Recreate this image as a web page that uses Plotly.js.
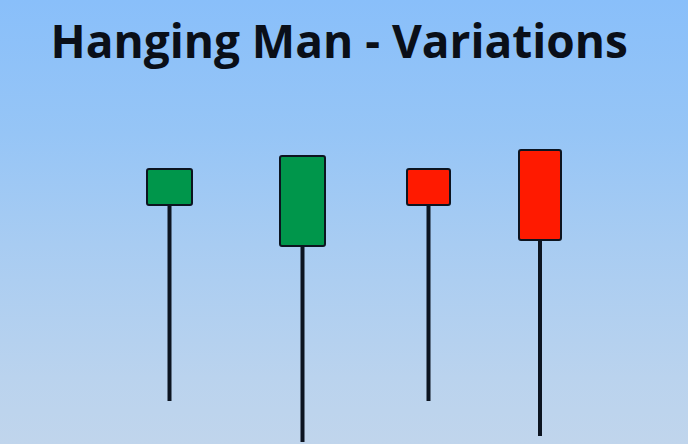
<!DOCTYPE html>
<html>
<head>
<meta charset="utf-8">
<script src="https://cdn.plot.ly/plotly-3.0.1.min.js"></script>
<style>
  html, body { margin: 0; padding: 0; }
  body {
    width: 688px; height: 444px; overflow: hidden;
    background: linear-gradient(to bottom, #89bffa 0%, #96c5f6 30%, #a8ccf2 55%, #bad3ee 85%, #c0d5ec 100%);
  }
  #chart { width: 688px; height: 444px; }
</style>
</head>
<body>
<div id="chart"></div>
<script>
// Four hanging-man candles: two bullish, two bearish, long lower shadows, no upper shadow
const labels = ['Green small', 'Green tall', 'Red small', 'Red tall'];
const xPos   = [169.5, 302.5, 428.5, 540];
const opens  = [239, 198, 275, 294];
const closes = [275, 288, 239, 204];
const highs  = [275, 288, 275, 294];
const lows   = [43, 2, 43, 8];
const bodyWidths = [45, 45, 43, 42];

const up = '#00964b';
const down = '#ff1a00';
const edge = '#0c1420';

const bodyBase = opens.map((o, i) => Math.min(o, closes[i]));
const bodyLen  = opens.map((o, i) => Math.abs(closes[i] - o));
const bodyColors = opens.map((o, i) => closes[i] >= o ? up : down);

// lower shadows (from the low up to the bottom of the body)
const wickX = [], wickY = [];
xPos.forEach((x, i) => {
  wickX.push(x, x, null);
  wickY.push(lows[i], bodyBase[i], null);
});
// upper shadows (from the top of the body up to the high; zero length here)
xPos.forEach((x, i) => {
  const top = Math.max(opens[i], closes[i]);
  wickX.push(x, x, null);
  wickY.push(top, highs[i], null);
});

const traces = [
  {
    type: 'scatter', mode: 'lines', x: wickX, y: wickY,
    line: { color: edge, width: 4 }, hoverinfo: 'skip', showlegend: false
  },
  {
    type: 'bar', x: xPos, y: bodyLen, base: bodyBase, width: bodyWidths,
    text: labels, textposition: 'none',
    marker: { color: bodyColors, line: { color: edge, width: 2 }, cornerradius: 2 },
    showlegend: false
  }
];

const layout = {
  width: 688, height: 444,
  margin: { l: 0, r: 0, t: 0, b: 0 },
  paper_bgcolor: 'rgba(0,0,0,0)',
  plot_bgcolor: 'rgba(0,0,0,0)',
  title: {
    text: '<b>Hanging Man - Variations</b>',
    x: 0.493, xanchor: 'center', y: 0.905, yanchor: 'middle',
    font: { family: '"Open Sans", Lato, sans-serif', size: 46, color: '#0a0f18' }
  },
  xaxis: { range: [0, 688], visible: false, fixedrange: true },
  yaxis: { range: [0, 444], visible: false, fixedrange: true },
  bargap: 0
};

Plotly.newPlot('chart', traces, layout, { displayModeBar: false, staticPlot: true });
</script>
</body>
</html>
